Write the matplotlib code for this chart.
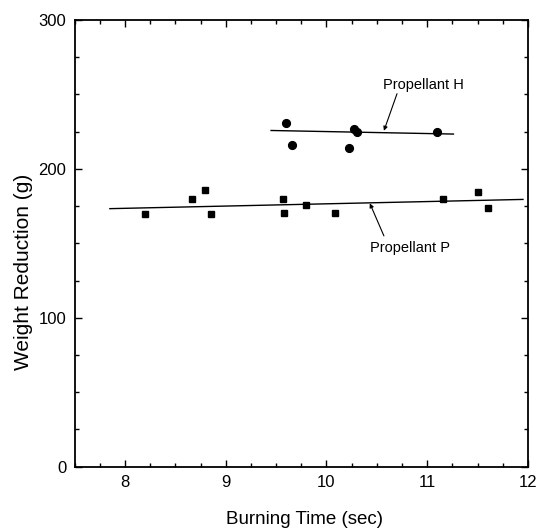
import matplotlib
matplotlib.use("Agg")
import matplotlib.pyplot as plt
from matplotlib.ticker import MultipleLocator

plt.rcParams['font.family'] = ['Liberation Sans', 'DejaVu Sans']

# Propellant H (circles)
h_time = [9.60, 9.66, 10.22, 10.27, 10.30, 11.10]
h_weight = [231, 216, 214, 227, 225, 225]
h_fit_x = [9.45, 11.26]
h_fit_y = [225.8, 223.4]

# Propellant P (squares)
p_time = [8.20, 8.67, 8.79, 8.85, 9.57, 9.58, 9.80, 10.08, 11.16, 11.50, 11.60]
p_weight = [170, 180, 185.5, 170, 180, 170.5, 176, 170.5, 180, 184.5, 173.5]
p_fit_x = [7.85, 11.95]
p_fit_y = [173.3, 179.5]

fig = plt.figure(figsize=(5.47, 5.31), dpi=100)
ax = fig.add_axes([74.6/547, 1 - 466.7/531, (528 - 74.6)/547, (466.7 - 20)/531])

ax.plot(p_time, p_weight, 's', color='black', markersize=4.8, linestyle='none')
ax.plot(p_fit_x, p_fit_y, '-', color='black', linewidth=1.0)
ax.plot(h_time, h_weight, 'o', color='black', markersize=5.6, linestyle='none')
ax.plot(h_fit_x, h_fit_y, '-', color='black', linewidth=1.0)

arrow = dict(arrowstyle='-|>', color='black', lw=0.8, mutation_scale=6, shrinkA=0, shrinkB=0)
ax.text(10.56, 256.5, 'Propellant H', ha='left', va='center', fontsize=10.5)
ax.annotate('', xy=(10.57, 225.6), xytext=(10.70, 250.5), arrowprops=arrow)
ax.text(10.83, 146.6, 'Propellant P', ha='center', va='center', fontsize=10.5)
ax.annotate('', xy=(10.43, 176.9), xytext=(10.57, 155.0), arrowprops=arrow)

ax.set_xlim(7.5, 12)
ax.set_ylim(0, 300)
ax.xaxis.set_major_locator(MultipleLocator(1))
ax.xaxis.set_minor_locator(MultipleLocator(0.25))
ax.yaxis.set_major_locator(MultipleLocator(100))
ax.yaxis.set_minor_locator(MultipleLocator(25))
ax.tick_params(which='both', direction='in', top=True, right=True, labelsize=12, width=1.0, pad=6)
ax.tick_params(which='major', length=5)
ax.tick_params(which='minor', length=3)
for s in ax.spines.values():
    s.set_linewidth(1.3)

ax.set_xlabel('Burning Time (sec)', fontsize=13.5)
ax.set_ylabel('Weight Reduction (g)', fontsize=15)
ax.xaxis.label.set_va('center')
ax.yaxis.label.set_va('center')
ax.xaxis.set_label_coords(0.506, -0.119)
ax.yaxis.set_label_coords(-0.113, 0.436)

fig.savefig('out.png', dpi=100)
